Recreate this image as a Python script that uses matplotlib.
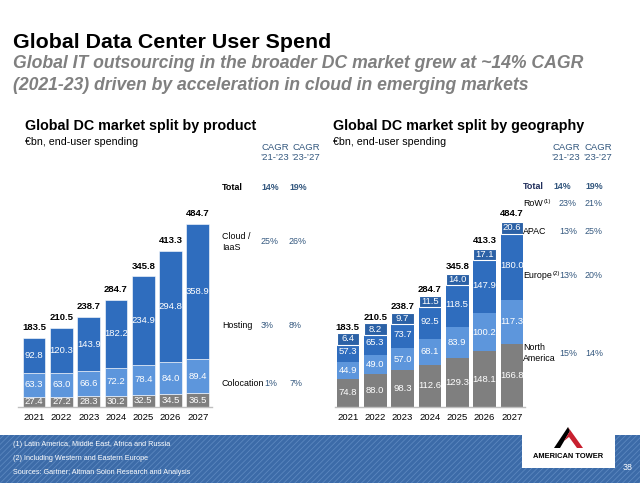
import matplotlib
matplotlib.use("Agg")
import matplotlib.pyplot as plt
from matplotlib.patches import Rectangle, Polygon

plt.rcParams["font.family"] = ["Liberation Sans", "DejaVu Sans"]
plt.rcParams["hatch.linewidth"] = 0.6

W, H = 640, 483

years = ["2021", "2022", "2023", "2024", "2025", "2026", "2027"]

# product split, EUR bn
colocation = [27.4, 27.2, 28.3, 30.2, 32.5, 34.5, 36.5]
hosting = [63.3, 63.0, 66.6, 72.2, 78.4, 84.0, 89.4]
cloud = [92.8, 120.3, 143.9, 182.2, 234.9, 294.8, 358.9]
totals = [183.5, 210.5, 238.7, 284.7, 345.8, 413.3, 484.7]

# geography split, EUR bn
north_america = [74.8, 88.0, 98.3, 112.6, 129.3, 148.1, 166.8]
europe = [44.9, 49.0, 57.0, 68.1, 83.9, 100.2, 117.3]
apac = [57.3, 65.3, 73.7, 92.5, 118.5, 147.9, 180.0]
row = [6.4, 8.2, 9.7, 11.5, 14.0, 17.1, 20.6]

product_rows = ["Total", "Cloud /\nIaaS", "Hosting", "Colocation"]
product_cagr_21_23 = ["14%", "25%", "3%", "1%"]
product_cagr_23_27 = ["19%", "26%", "8%", "7%"]

geo_rows = ["Total", "RoW", "APAC", "Europe", "North\nAmerica"]
geo_cagr_21_23 = ["14%", "23%", "13%", "13%", "15%"]
geo_cagr_23_27 = ["19%", "21%", "25%", "20%", "14%"]

footnotes = [
    "(1) Latin America, Middle East, Africa and Russia",
    "(2) Including Western and Eastern Europe",
    "Sources: Gartner; Altman Solon Research and Analysis",
]

C_DARK = "#2B61A6"
C_BLUE = "#2F6DBE"
C_LIGHT = "#5D96DC"
C_GREY = "#7F7F7F"
C_CAGR = "#34587F"
FS = 6.4   # table text
VS = 6.8   # value labels


def fx(x):
    return x / W


def fy(y):
    return 1 - y / H


def px_axes(fig, left, top, right, bottom):
    return fig.add_axes([fx(left), fy(bottom), (right - left) / W, (bottom - top) / H])


fig = plt.figure(figsize=(6.4, 4.83), dpi=100)

fig.text(fx(13), fy(42), "Global Data Center User Spend", fontsize=15.4,
         fontweight="bold", va="center", ha="left")
fig.text(fx(13), fy(63), "Global IT outsourcing in the broader DC market grew at ~14% CAGR",
         fontsize=12.7, fontweight="bold", style="italic", color="#808080", va="center")
fig.text(fx(13), fy(85), "(2021-23) driven by acceleration in cloud in emerging markets",
         fontsize=12.7, fontweight="bold", style="italic", color="#808080", va="center")

fig.text(fx(25), fy(126), "Global DC market split by product", fontsize=10.3,
         fontweight="bold", va="center")
fig.text(fx(25), fy(142), "€bn, end-user spending", fontsize=7.7, va="center")
fig.text(fx(333), fy(126), "Global DC market split by geography", fontsize=10.3,
         fontweight="bold", va="center")
fig.text(fx(333), fy(142), "€bn, end-user spending", fontsize=7.7, va="center")

x = list(range(len(years)))
bw = 0.83


def setup(ax, xlim):
    ax.set_xlim(*xlim)
    ax.set_ylim(0, 575)
    for s in ["top", "right", "left"]:
        ax.spines[s].set_visible(False)
    ax.spines["bottom"].set_color("#BFBFBF")
    ax.spines["bottom"].set_linewidth(1.0)
    ax.set_yticks([])
    ax.set_xticks(x)
    ax.set_xticklabels(years, fontsize=6.8)
    ax.tick_params(axis="x", length=0, pad=4.5)
    ax.patch.set_alpha(0)


def seg_labels(ax, bottoms, vals):
    for i, (b, v) in enumerate(zip(bottoms, vals)):
        ax.text(i, b + v / 2, f"{v:.1f}", ha="center", va="center",
                color="white", fontsize=VS)


def total_labels(ax):
    for i, t in enumerate(totals):
        ax.annotate(f"{t:.1f}", (i, t), xytext=(0, 7.5), textcoords="offset points",
                    ha="center", va="center", fontsize=VS, fontweight="bold")


# left chart: product
ax1 = px_axes(fig, 18, 190, 212, 407)
setup(ax1, (-0.59, 6.52))
b0 = [0] * 7
b1 = colocation
b2 = [a + b for a, b in zip(colocation, hosting)]
ax1.bar(x, colocation, bw, bottom=b0, color=C_GREY, edgecolor="white", linewidth=0.4)
ax1.bar(x, hosting, bw, bottom=b1, color=C_LIGHT, edgecolor="white", linewidth=0.4)
ax1.bar(x, cloud, bw, bottom=b2, color=C_BLUE, edgecolor="white", linewidth=0.4)
seg_labels(ax1, b0, colocation)
seg_labels(ax1, b1, hosting)
seg_labels(ax1, b2, cloud)
total_labels(ax1)

# right chart: geography
ax2 = px_axes(fig, 335, 190, 525, 407)
setup(ax2, (-0.47, 6.48))
g1 = north_america
g2 = [a + b for a, b in zip(north_america, europe)]
g3 = [a + b for a, b in zip(g2, apac)]
ax2.bar(x, north_america, bw, color=C_GREY, linewidth=0)
ax2.bar(x, europe, bw, bottom=g1, color=C_LIGHT, linewidth=0)
ax2.bar(x, apac, bw, bottom=g2, color=C_BLUE, linewidth=0)
ax2.bar(x, row, bw, bottom=g3, color=C_DARK, linewidth=0)
seg_labels(ax2, [0] * 7, north_america)
seg_labels(ax2, g1, europe)
seg_labels(ax2, g2, apac)
# RoW labels sit in a bar-wide dark box centred on the thin segment
box_h = 30
for i, (b, v) in enumerate(zip(g3, row)):
    c = b + v / 2
    ax2.bar(i, box_h, bw, bottom=c - box_h / 2, color=C_DARK, edgecolor="white",
            linewidth=0.8, zorder=3)
    ax2.text(i, c, f"{v:.1f}", ha="center", va="center", color="white",
             fontsize=VS, zorder=4)
total_labels(ax2)

# CAGR tables
for cx1, cx2 in [(275, 306), (566, 598)]:
    for cx in (cx1, cx2):
        fig.text(fx(cx), fy(147), "CAGR", fontsize=FS + 0.4, color=C_CAGR, ha="center", va="center")
    fig.text(fx(cx1), fy(158), "’21-’23", fontsize=FS + 0.4, color=C_CAGR, ha="center", va="center")
    fig.text(fx(cx2), fy(158), "’23-’27", fontsize=FS + 0.4, color=C_CAGR, ha="center", va="center")

prod_y = [187, 242, 325, 383]
for name, a, b, yy in zip(product_rows, product_cagr_21_23, product_cagr_23_27, prod_y):
    bold = name == "Total"
    fw = "bold" if bold else "normal"
    fig.text(fx(222), fy(yy), name, fontsize=FS, va="center", ha="left",
             fontweight=fw, linespacing=1.3)
    c1 = 264 if name == "Colocation" else 261
    fig.text(fx(c1), fy(yy), a, fontsize=FS, va="center", ha="left", color=C_CAGR, fontweight=fw)
    fig.text(fx(289), fy(yy), b, fontsize=FS, va="center", ha="left", color=C_CAGR, fontweight=fw)

geo_y = [186, 204, 232, 276, 353]
geo_sup = {"RoW": ("(1)", 544), "Europe": ("(2)", 553)}
for name, a, b, yy in zip(geo_rows, geo_cagr_21_23, geo_cagr_23_27, geo_y):
    bold = name == "Total"
    fw = "bold" if bold else "normal"
    fig.text(fx(523), fy(yy), name, fontsize=FS, va="center", ha="left",
             fontweight=fw, linespacing=1.3, color="#1F2D5A" if bold else "black")
    if name in geo_sup:
        sup, sx = geo_sup[name]
        fig.text(fx(sx), fy(yy - 2.5), sup, fontsize=4.3, va="center", ha="left")
    c1 = 553 if bold else 559
    fig.text(fx(c1), fy(yy), a, fontsize=FS, va="center", ha="left", color=C_CAGR, fontweight=fw)
    fig.text(fx(585), fy(yy), b, fontsize=FS, va="center", ha="left", color=C_CAGR, fontweight=fw)

# footer band
fig.patches.append(Rectangle((0, 0), 1, fy(435), transform=fig.transFigure,
                             facecolor="#3C6BA8", edgecolor="#5B87BF", hatch="//////",
                             linewidth=0, zorder=0))
fig.patches.append(Rectangle((fx(522), fy(468)), (615 - 522) / W, (468 - 432) / H,
                             transform=fig.transFigure, facecolor="white",
                             edgecolor="none", zorder=1))
for t, yy in zip(footnotes, [445, 458, 472]):
    fig.text(fx(13), fy(yy), t, fontsize=5.25, color="white", va="center")
fig.text(fx(628), fy(468), "38", fontsize=6.4, color="white", ha="center", va="center")

# logo
fig.patches.append(Polygon([(fx(554), fy(448)), (fx(568), fy(427)), (fx(570), fy(431)),
                            (fx(560), fy(448))], closed=True, transform=fig.transFigure,
                           facecolor="black", edgecolor="none", zorder=2))
fig.patches.append(Polygon([(fx(568), fy(427)), (fx(583), fy(448)), (fx(577), fy(448)),
                            (fx(569), fy(437)), (fx(564), fy(441)), (fx(570), fy(431))],
                           closed=True, transform=fig.transFigure,
                           facecolor="#C8202F", edgecolor="none", zorder=2))
fig.text(fx(568), fy(457), "AMERICAN TOWER", fontsize=5.4, fontweight="bold",
         ha="center", va="center")

fig.savefig("out.png", dpi=100)
